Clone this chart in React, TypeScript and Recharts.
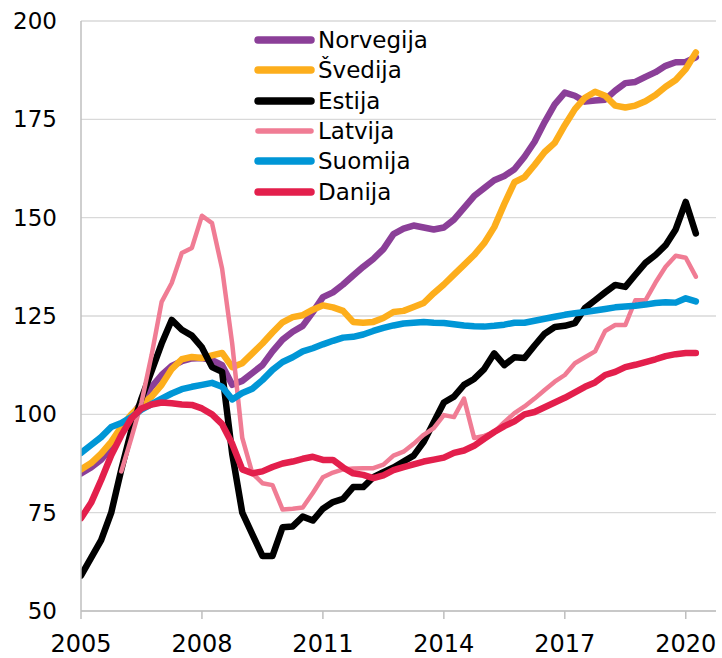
import { LineChart, Line, XAxis, YAxis, CartesianGrid, Legend } from "recharts";

// quarterly, 2005Q1 .. 2020Q2
const quarters = Array.from({ length: 62 }, (_, i) => 2005 + i / 4);

const norvegija = [
  85, 86.5, 88.5, 91.5, 96, 99.5, 103, 107, 110, 112.3, 113.5, 114.2, 114.3, 113.8, 112.5, 107.5,
  108.5, 110.5, 112.5, 116, 119, 121, 122.5, 126, 129.8, 131, 133, 135.3, 137.5, 139.5, 142, 145.8,
  147.2, 148, 147.5, 147, 147.5, 149.5, 152.5, 155.5, 157.5, 159.5, 160.6, 162.3, 165.5, 169.3,
  174.3, 178.8, 181.8, 181, 179.5, 179.8, 180, 182.3, 184.2, 184.5, 185.8, 187, 188.6, 189.5, 189.6,
  190.8,
];
const svedija = [
  86, 87.6, 90, 93, 96.8, 100, 102.5, 104.5, 107.5, 111.5, 114, 114.6, 114.3, 115, 115.6, 112, 113,
  115.5, 118, 120.8, 123.4, 124.7, 125.2, 126.6, 127.7, 127.2, 126.3, 123.5, 123.3, 123.5, 124.5, 126,
  126.3, 127.3, 128.3, 130.8, 133, 135.5, 138, 140.5, 143.5, 147.6, 153.5, 159, 160.3, 163.4, 166.7,
  169, 173.5, 177.6, 180.5, 182, 181, 178.5, 178, 178.5, 179.6, 181.2, 183.3, 185, 187.8, 192,
];
const estija = [
  59, 63.5, 68, 75, 86, 96, 104, 111, 118, 124, 121.5, 120, 117, 112, 110.8, 90, 75, 69.5, 64, 64,
  71.3, 71.5, 74, 73, 76, 77.7, 78.5, 81.5, 81.5, 84, 85.3, 86.5, 88, 89.5, 93, 98, 103, 104.5, 107.5,
  109, 111.5, 115.5, 112.5, 114.5, 114.3, 117.5, 120.5, 122.2, 122.5, 123.2, 127, 129, 131, 132.9,
  132.4, 135.5, 138.5, 140.5, 143, 147, 154, 146,
];
const latvija = [
  null, null, null, null, 85.5, 94, 103, 115, 128.6, 133.4, 141, 142.3, 150.5, 148.6, 137, 118, 94,
  85, 82.5, 82, 75.8, 76, 76.3, 80, 84, 85.2, 86, 86.2, 86.3, 86.3, 87.2, 89.5, 90.5, 92.5, 94.8, 96.5,
  99.8, 99.3, 104, 94, 94.5, 95.5, 98, 100.3, 102, 104, 106.2, 108.3, 110, 113, 114.5, 116, 121.2,
  122.7, 122.7, 129, 129, 133.5, 137.5, 140.3, 139.8, 135,
];
const suomija = [
  90.2, 92.2, 94.2, 96.8, 97.8, 99.3, 101.2, 102.6, 104, 105.3, 106.4, 107, 107.5, 108, 107, 103.8,
  105.4, 106.5, 108.7, 111.3, 113.3, 114.5, 116, 116.8, 117.8, 118.7, 119.5, 119.7, 120.3, 121.2, 122,
  122.6, 123.1, 123.3, 123.5, 123.3, 123.2, 122.9, 122.6, 122.4, 122.3, 122.5, 122.8, 123.3, 123.3,
  123.8, 124.3, 124.8, 125.3, 125.7, 126, 126.4, 126.8, 127.2, 127.4, 127.6, 127.9, 128.3, 128.5,
  128.4, 129.5, 128.7,
];
const danija = [
  73.6, 77.5, 83.3, 89.6, 94.7, 99, 101.5, 102.5, 103, 102.8, 102.5, 102.4, 101.5, 100, 97.5, 92.5, 86,
  85, 85.5, 86.6, 87.5, 88, 88.7, 89.2, 88.4, 88.4, 86.5, 85, 84.6, 83.8, 84.5, 85.8, 86.6, 87.3, 88,
  88.5, 89, 90.2, 90.8, 92, 93.8, 95.5, 97, 98.2, 100, 100.6, 101.8, 103, 104.2, 105.6, 107, 108.1, 110,
  110.8, 112, 112.6, 113.3, 114, 114.8, 115.3, 115.6, 115.6,
];

const yTicks = [50, 75, 100, 125, 150, 175, 200];
const xTicks = [2005, 2008, 2011, 2014, 2017, 2020];

const series = [
  { key: "norvegija", name: "Norvegija", color: "#8b3f98", width: 6.5, values: norvegija },
  { key: "svedija", name: "Švedija", color: "#fdae1c", width: 6.5, values: svedija },
  { key: "estija", name: "Estija", color: "#000000", width: 6.5, values: estija },
  { key: "latvija", name: "Latvija", color: "#f07c94", width: 4.5, values: latvija },
  { key: "suomija", name: "Suomija", color: "#0096d6", width: 6.5, values: suomija },
  { key: "danija", name: "Danija", color: "#e31f4c", width: 6.5, values: danija },
];

const data = quarters.map((x, i) => {
  const row: Record<string, number | null> = { x };
  series.forEach((s) => {
    row[s.key] = s.values[i];
  });
  return row;
});

const FONT = "'DejaVu Sans', Verdana, sans-serif";

function LegendBox() {
  return (
    <div style={{ fontFamily: FONT, fontSize: 23, color: "#000" }}>
      {series.map((s) => (
        <div key={s.key} style={{ display: "flex", alignItems: "center", height: 30.3 }}>
          <svg width={64} height={14}>
            <line
              x1={4}
              y1={7}
              x2={57}
              y2={7}
              stroke={s.color}
              strokeWidth={s.width + 1}
              strokeLinecap="round"
            />
          </svg>
          <span style={{ lineHeight: "30px" }}>{s.name}</span>
        </div>
      ))}
    </div>
  );
}

export default function App() {
  return (
    <div style={{ position: "absolute", left: 0, top: 0, background: "#fff" }}>
      <LineChart
        width={722}
        height={658}
        data={data}
        margin={{ top: 21, right: 6, bottom: 0, left: 0 }}
      >
        <CartesianGrid vertical={false} stroke="#d9d9d9" strokeWidth={1.3} />
        <XAxis
          dataKey="x"
          type="number"
          domain={[2005, 2020.75]}
          ticks={xTicks}
          height={47}
          axisLine={{ stroke: "#bfbfbf", strokeWidth: 1.5 }}
          tickLine={{ stroke: "#bfbfbf", strokeWidth: 1.5 }}
          tickSize={8}
          tickMargin={16}
          tick={{ fill: "#000", fontSize: 24, fontFamily: FONT }}
          allowDataOverflow
        />
        <YAxis
          domain={[50, 200]}
          ticks={yTicks}
          width={81}
          axisLine={{ stroke: "#bfbfbf", strokeWidth: 1.5 }}
          tickLine={false}
          tickSize={0}
          tickMargin={24}
          tick={{ fill: "#000", fontSize: 23, fontFamily: FONT }}
        />
        <Legend
          layout="vertical"
          align="center"
          verticalAlign="middle"
          content={() => <LegendBox />}
          wrapperStyle={{ position: "absolute", left: 254, top: 25, width: 220 }}
        />
        {series.map((s) => (
          <Line
            key={s.key}
            dataKey={s.key}
            name={s.name}
            stroke={s.color}
            strokeWidth={s.width}
            strokeLinejoin="round"
            strokeLinecap="round"
            dot={false}
            activeDot={false}
            isAnimationActive={false}
          />
        ))}
      </LineChart>
    </div>
  );
}
